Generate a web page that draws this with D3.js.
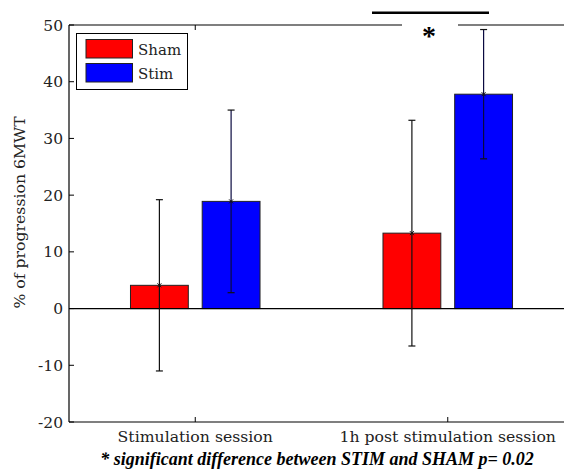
<!DOCTYPE html>
<html><head><meta charset="utf-8">
<script src="https://cdn.jsdelivr.net/npm/d3@7"></script>
<style>
html,body{margin:0;padding:0;background:#fff;overflow:hidden}
svg{display:block}
</style></head>
<body>
<script>
const categories = ["Stimulation session", "1h post stimulation session"];
const seriesNames = ["Sham", "Stim"];
const shamValues = [4.1, 13.3];
const shamErrors = [15.1, 19.9];
const stimValues = [18.9, 37.8];
const stimErrors = [16.1, 11.4];
const yTicks = [-20, -10, 0, 10, 20, 30, 40, 50];
const caption = "* significant difference between STIM and SHAM p= 0.02";
const colors = ["#ff0000", "#0000ff"];

(function(){
const W = 564, H = 475;
const pLeft = 69, pTop = 25, pRight = 574, pBottom = 422;
const svg = d3.select("body").append("svg").attr("width", W).attr("height", H);

const x = d3.scaleLinear().domain([0.5, 2.5]).range([pLeft, pRight]);
const y = d3.scaleLinear().domain([-20, 50]).range([pBottom, pTop]);
const barW = 0.229, off = 0.142;
const font = "'DejaVu Serif', serif";

const series = [
  {name: seriesNames[0], vals: shamValues, errs: shamErrors, color: colors[0], o: -off},
  {name: seriesNames[1], vals: stimValues, errs: stimErrors, color: colors[1], o: off}
];

const g = svg.append("g");
// bars
series.forEach(s => {
  s.vals.forEach((v, i) => {
    const cx = i + 1 + s.o;
    g.append("rect")
      .attr("x", x(cx - barW/2)).attr("width", x(cx + barW/2) - x(cx - barW/2))
      .attr("y", y(Math.max(v,0))).attr("height", Math.abs(y(v) - y(0)))
      .attr("fill", s.color).attr("stroke", "#222").attr("stroke-width", 1);
  });
});
// zero line
g.append("line").attr("x1", pLeft).attr("x2", pRight).attr("y1", y(0)).attr("y2", y(0))
  .attr("stroke", "#000").attr("stroke-width", 1.2);
// error bars
series.forEach(s => {
  s.vals.forEach((v, i) => {
    const cx = x(i + 1 + s.o);
    const lo = y(v - s.errs[i]), hi = y(v + s.errs[i]);
    g.append("line").attr("x1", cx).attr("x2", cx).attr("y1", lo).attr("y2", hi)
      .attr("stroke", s.color === colors[1] ? "#0a0a40" : "#111").attr("stroke-width", 1.2);
    [lo, hi].forEach(yy => g.append("line").attr("x1", cx - 3.5).attr("x2", cx + 3.5)
      .attr("y1", yy).attr("y2", yy).attr("stroke", "#111").attr("stroke-width", 1.2));
    g.append("path").attr("d", d3.symbol(d3.symbolTimes, 12)())
      .attr("transform", `translate(${cx},${y(v)})`).attr("fill", "none").attr("stroke", "#111").attr("stroke-width", 1);
  });
});

// box
g.append("line").attr("x1", pLeft).attr("x2", pLeft).attr("y1", pTop).attr("y2", pBottom).attr("stroke", "#000").attr("stroke-width", 1.2);
g.append("line").attr("x1", pLeft).attr("x2", pRight).attr("y1", pBottom).attr("y2", pBottom).attr("stroke", "#000").attr("stroke-width", 1.2);
g.append("line").attr("x1", pLeft).attr("x2", pRight).attr("y1", pTop).attr("y2", pTop).attr("stroke", "#000").attr("stroke-width", 1.2);

// y ticks
yTicks.forEach(t => {
  g.append("line").attr("x1", pLeft).attr("x2", pLeft + 5).attr("y1", y(t)).attr("y2", y(t)).attr("stroke", "#000");
  g.append("text").attr("x", pLeft - 6).attr("y", y(t)).attr("dy", "0.36em")
    .attr("text-anchor", "end").attr("font-family", font).attr("font-size", 15.5)
    .attr("fill", "#222").text(t);
});
// x ticks
categories.forEach((c, i) => {
  const cx = x(i + 1);
  g.append("line").attr("x1", cx).attr("x2", cx).attr("y1", pBottom).attr("y2", pBottom - 5).attr("stroke", "#000");
  g.append("line").attr("x1", cx).attr("x2", cx).attr("y1", pTop).attr("y2", pTop + 5).attr("stroke", "#000");
  g.append("text").attr("x", cx).attr("y", 442).attr("text-anchor", "middle")
    .attr("font-family", font).attr("font-size", 15.7).attr("fill", "#222").text(c);
});

// y label
svg.append("text").attr("transform", `translate(25,${(pTop+pBottom)/2 - 11}) rotate(-90)`)
  .attr("text-anchor", "middle").attr("font-family", font).attr("font-size", 15.7)
  .attr("fill", "#222").text("% of progression 6MWT");

// significance marker
svg.append("rect").attr("x", 402).attr("y", 18).attr("width", 56).attr("height", 20).attr("fill", "#fff");
svg.append("text").attr("x", 429).attr("y", 45).attr("text-anchor", "middle")
  .attr("font-family", "'Liberation Serif', serif").attr("font-weight", "bold").attr("font-size", 28)
  .attr("fill", "#000").text("*");
svg.append("line").attr("x1", 372).attr("x2", 489).attr("y1", 12.7).attr("y2", 12.7)
  .attr("stroke", "#000").attr("stroke-width", 2.5);

// legend
const lg = svg.append("g");
lg.append("rect").attr("x", 76.5).attr("y", 33.5).attr("width", 111).attr("height", 56)
  .attr("fill", "#fff").attr("stroke", "#000").attr("stroke-width", 1);
series.forEach((s, i) => {
  const yy = 39.5 + i * 24;
  lg.append("rect").attr("x", 86).attr("y", yy).attr("width", 46.5).attr("height", 18.5)
    .attr("fill", s.color).attr("stroke", "#222");
  lg.append("text").attr("x", 138).attr("y", yy + 15).attr("font-family", font)
    .attr("font-size", 15).attr("fill", "#222").text(s.name);
});

// caption
svg.append("text").attr("x", 317).attr("y", 465).attr("text-anchor", "middle")
  .attr("font-family", "'Liberation Serif', 'Times New Roman', serif").attr("font-style", "italic").attr("font-weight", "bold")
  .attr("font-size", 18).attr("fill", "#000").text(caption);
})();
</script>
</body></html>
